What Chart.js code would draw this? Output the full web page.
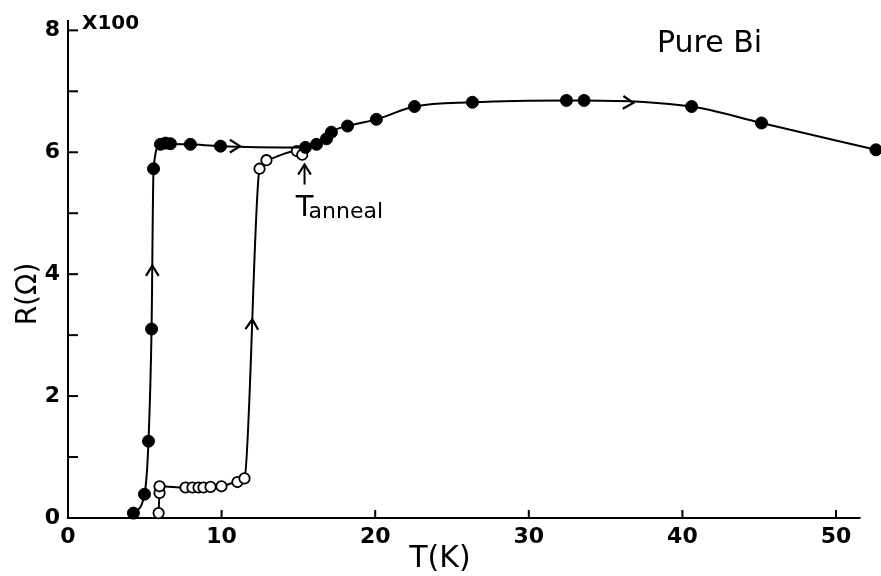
<!DOCTYPE html>
<html>
<head>
<meta charset="utf-8">
<script src="https://cdn.jsdelivr.net/npm/chart.js@4.4.1/dist/chart.umd.min.js"></script>
<style>
  html, body { margin: 0; padding: 0; background: #fff; }
  #wrap { width: 881px; height: 576px; }
</style>
</head>
<body>
<div id="wrap"><canvas id="c" width="881" height="576"></canvas></div>
<script>
// Resistance of pure Bi film (units of 100 Ω) versus temperature.
// Filled circles: first warming run (superconducting onset ~5 K).
const warmT = [4.26, 4.98, 5.24, 5.44, 5.57, 6.02, 6.35, 6.67, 7.97, 9.93, 15.46, 16.18, 16.83, 17.15, 18.2, 20.08, 22.56, 26.33, 32.45, 33.6, 40.6, 45.15, 52.6];
const warmR = [0.08, 0.39, 1.26, 3.1, 5.73, 6.13, 6.15, 6.14, 6.13, 6.1, 6.08, 6.13, 6.22, 6.33, 6.43, 6.54, 6.75, 6.82, 6.85, 6.85, 6.75, 6.48, 6.04];

// Open circles: run after annealing, transition near 12 K.
const annealT = [5.9, 5.96, 5.96, 7.65, 8.1, 8.5, 8.82, 9.28, 9.99, 11.03, 11.49, 12.47, 12.92, 14.9, 15.25];
const annealR = [0.08, 0.41, 0.52, 0.5, 0.5, 0.5, 0.5, 0.51, 0.52, 0.59, 0.65, 5.73, 5.87, 6.02, 5.96];

// Axis ticks
const xTickValues = [0, 10, 20, 30, 40, 50];
const xTickLabels = ['0', '10', '20', '30', '40', '50'];
const yTickValues = [0, 1, 2, 3, 4, 5, 6, 7, 8];
const yTickLabels = ['0', '', '2', '', '4', '', '6', '', '8'];
const xAxisEnd = 51.6;   // the drawn T axis stops here; the last point lies past it

// Direction arrows along the curves: [T, R, angle in degrees]
const flowArrows = [
  [11.2, 6.1, 0],
  [36.8, 6.81, 3],
  [5.49, 4.14, -90],
  [12.0, 3.26, -87]
];

// Annealing temperature marker
const tAnneal = 15.4;

const FONT = '"DejaVu Sans", "Liberation Sans", sans-serif';

function seg(ctx, x1, y1, x2, y2) {
  ctx.beginPath(); ctx.moveTo(x1, y1); ctx.lineTo(x2, y2); ctx.stroke();
}
function chevron(ctx, px, py, deg) {
  const a = deg * Math.PI / 180, len = 12, spread = 32 * Math.PI / 180;
  ctx.beginPath();
  ctx.moveTo(px - len * Math.cos(a - spread), py - len * Math.sin(a - spread));
  ctx.lineTo(px, py);
  ctx.lineTo(px - len * Math.cos(a + spread), py - len * Math.sin(a + spread));
  ctx.stroke();
}

const decorations = {
  id: 'decorations',
  beforeDatasetsDraw(chart) {
    const { ctx, scales: { x, y } } = chart;
    ctx.save();
    ctx.strokeStyle = '#000';
    ctx.lineWidth = 2;
    // T axis line
    seg(ctx, x.left - 1, y.bottom, x.getPixelForValue(xAxisEnd), y.bottom);
    ctx.restore();
  },
  afterDraw(chart) {
    const { ctx, scales: { x, y } } = chart;
    ctx.save();
    ctx.strokeStyle = '#000';
    ctx.fillStyle = '#000';
    ctx.lineWidth = 2;
    ctx.lineCap = 'butt';

    // inward tick marks
    yTickValues.forEach(v => {
      const py = y.getPixelForValue(v);
      if (v > 0) seg(ctx, x.left, py, x.left + 10, py);
    });
    xTickValues.forEach(v => {
      const px = x.getPixelForValue(v);
      if (v > 0) seg(ctx, px, y.bottom, px, y.bottom - 8);
    });

    // flow arrows
    ctx.lineWidth = 2.2;
    flowArrows.forEach(([t, r, deg]) => chevron(ctx, x.getPixelForValue(t), y.getPixelForValue(r), deg));

    // T_anneal marker
    ctx.lineWidth = 2;
    const ax = x.getPixelForValue(tAnneal);
    const tip = y.getPixelForValue(5.8), tail = y.getPixelForValue(5.47);
    seg(ctx, ax, tail, ax, tip);
    chevron(ctx, ax, tip, -90);
    ctx.textBaseline = 'alphabetic';
    ctx.textAlign = 'center';
    ctx.font = '29px ' + FONT;
    ctx.fillText('T', ax, tail + 31);
    ctx.textAlign = 'left';
    ctx.font = '22px ' + FONT;
    ctx.fillText('anneal', ax + 4, tail + 33);

    // scale factor and sample label
    ctx.font = 'bold 20px ' + FONT;
    ctx.fillText('X100', x.left + 14, y.top + 8);
    ctx.font = '30px ' + FONT;
    ctx.fillText('Pure Bi', 657, 52);

    // axis titles
    ctx.textAlign = 'center';
    ctx.font = '30px ' + FONT;
    ctx.fillText('T(K)', 440, 567);
    ctx.save();
    ctx.translate(36, 294);
    ctx.rotate(-Math.PI / 2);
    ctx.font = '28px ' + FONT;
    ctx.fillText('R(Ω)', 0, 0);
    ctx.restore();

    ctx.restore();
  }
};

new Chart(document.getElementById('c'), {
  type: 'line',
  data: {
    datasets: [
      {
        label: 'warming',
        data: warmT.map((t, i) => ({ x: t, y: warmR[i] })),
        borderColor: '#000',
        borderWidth: 2,
        pointRadius: 6,
        pointBackgroundColor: '#000',
        pointBorderColor: '#000',
        pointBorderWidth: 1,
        cubicInterpolationMode: 'monotone',
        clip: false
      },
      {
        label: 'annealed',
        data: annealT.map((t, i) => ({ x: t, y: annealR[i] })),
        borderColor: '#000',
        borderWidth: 2,
        pointRadius: 5.2,
        pointBackgroundColor: '#fff',
        pointBorderColor: '#000',
        pointBorderWidth: 1.8,
        cubicInterpolationMode: 'monotone',
        clip: false
      }
    ]
  },
  options: {
    responsive: false,
    animation: false,
    devicePixelRatio: 1,
    layout: { autoPadding: false, padding: { left: 0, right: 0, top: 18, bottom: 0 } },
    plugins: { legend: { display: false }, title: { display: false }, tooltip: { enabled: false } },
    scales: {
      x: {
        type: 'linear',
        min: 0,
        max: 52.93,
        afterBuildTicks: s => { s.ticks = xTickValues.map(v => ({ value: v })); },
        afterFit: s => { s.height = 58; },
        grid: { display: false, drawTicks: false },
        border: { display: false },
        ticks: {
          color: '#000',
          padding: 6,
          maxRotation: 0,
          font: { family: FONT, size: 22, weight: 'bold' },
          callback: (v) => { const i = xTickValues.indexOf(v); return i >= 0 ? xTickLabels[i] : ''; }
        }
      },
      y: {
        type: 'linear',
        min: 0,
        max: 8.15,
        afterBuildTicks: s => { s.ticks = yTickValues.map(v => ({ value: v })); },
        afterFit: s => { s.width = 68; },
        grid: { display: false, drawTicks: false },
        border: { display: true, color: '#000', width: 2 },
        ticks: {
          color: '#000',
          padding: 8,
          font: { family: FONT, size: 22, weight: 'bold' },
          callback: (v) => { const i = yTickValues.indexOf(v); return i >= 0 ? yTickLabels[i] : ''; }
        }
      }
    }
  },
  plugins: [decorations]
});
</script>
</body>
</html>
